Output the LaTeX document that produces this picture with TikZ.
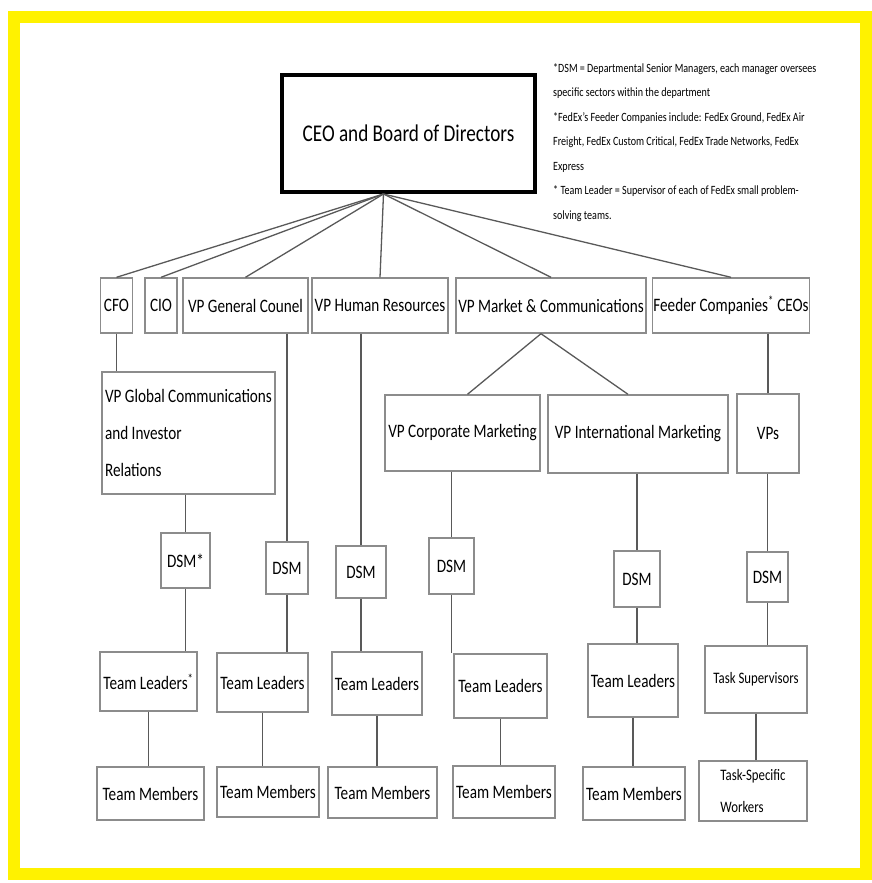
\documentclass[tikz,border=0pt]{standalone}
\usepackage{fontspec}
\setmainfont{Carlito}[FakeStretch=0.8]
\usetikzlibrary{calc}
\usetikzlibrary{positioning}

\tikzset{
  box/.style={draw=black!45, line width=1.4pt, inner sep=1pt, fill=white,
    font=\fontsize{19}{23}\selectfont},
  ceobox/.style={draw=black, line width=4pt, fill=white,
    font=\fontsize{24}{28}\selectfont},
  link/.style={draw=black!65, line width=1.3pt},
}

\begin{document}
\begin{tikzpicture}[x=1pt, y=-1pt]
  \useasboundingbox (0,0) rectangle (872,883);
  \draw [yellow, line width=12pt] (14,17) rectangle (866,874);

  % top of the chart
  \node [ceobox, minimum width=253pt, minimum height=117pt] (ceo) at (408.5,133.5)
    {CEO and Board of Directors};
  \coordinate (apex) at ([xshift=-25pt]ceo.south);
  \node [anchor=north west, align=left, inner sep=0pt,
    font=\fontsize{12.6}{24.5}\selectfont] (notes) at (553,63)
    {*DSM = Departmental Senior Managers, each manager oversees\\
     specific sectors within the department\\
     *FedEx's Feeder Companies include: FedEx Ground, FedEx Air\\
     Freight, FedEx Custom Critical, FedEx Trade Networks, FedEx\\
     Express\\
     * Team Leader = Supervisor of each of FedEx small problem-\\
     solving teams.};

  % first row
  \foreach \name/\x/\w/\txt in {
    cfo/116.5/32/CFO, cio/161/32/CIO, vpgc/245.5/125/VP General Counel,
    vphr/380/136/VP Human Resources, vpmkt/551/190/VP Market \& Communications,
    feeder/731/156/Feeder Companies\textsuperscript{*} CEOs
  }{
    \node [box, minimum width=\w pt, minimum height=55pt] (\name) at (\x,305.5) {\txt};
  }

  % second row
  \node [box, minimum width=173pt, minimum height=122pt, align=left,
    font=\fontsize{19}{37}\selectfont] (vpglobal) at (188.5,433)
    {VP Global Communications\\and Investor\\Relations};
  \node [box, minimum width=155pt, minimum height=76pt] (vpcorp) at (462.5,433) {VP Corporate Marketing};
  \node [box, minimum width=180pt, minimum height=78pt] (vpintl) at (638,434) {VP International Marketing};
  \node [box, minimum width=62pt, minimum height=79pt] (vps) at (768,433.5) {VPs};

  % DSMs
  \foreach \name/\x/\y/\w/\h/\txt in {
    dsm1/185.5/560.5/49/55/DSM*, dsm2/287/568/42/52/DSM, dsm3/361/572/50/52/DSM,
    dsm4/451.5/566/45/56/DSM, dsm5/637/579/46/56/DSM, dsm6/767.5/577/41/50/DSM
  }{
    \node [box, minimum width=\w pt, minimum height=\h pt] (\name) at (\x,\y) {\txt};
  }

  % team leaders
  \foreach \name/\x/\y/\w/\h/\txt in {
    tl1/148.5/681.5/97/59/Team Leaders\textsuperscript{*}, tl2/262.5/682.5/91/59/Team Leaders,
    tl3/377/683.5/90/63/Team Leaders, tl4/500.5/686/93/64/Team Leaders,
    tl5/633/680.5/90/73/Team Leaders
  }{
    \node [box, minimum width=\w pt, minimum height=\h pt] (\name) at (\x,\y) {\txt};
  }
  \node [box, minimum width=102pt, minimum height=67pt,
    font=\fontsize{16}{20}\selectfont] (tsup) at (756,679.5) {Task Supervisors};

  % team members
  \foreach \name/\x/\y/\w/\h in {
    tm1/150.5/793.5/107/53, tm2/268/792/102/50, tm3/382.5/792.5/109/51,
    tm4/504/792/102/52, tm5/634/793.5/102/53
  }{
    \node [box, minimum width=\w pt, minimum height=\h pt] (\name) at (\x,\y) {Team Members};
  }
  \node [box, minimum width=108pt, minimum height=60pt, align=left,
    font=\fontsize{16}{32}\selectfont] (tsw) at (753,791) {Task-Specific\\Workers};

  % links
  \foreach \n in {cfo, cio, vpgc, vphr, vpmkt, feeder}{
    \draw [link] (apex) -- (\n.north);
  }
  \draw [link] ([xshift=-10pt]vpmkt.south) -- ([xshift=5pt]vpcorp.north);
  \draw [link] ([xshift=-10pt]vpmkt.south) -- ([xshift=-10pt]vpintl.north);
  % straight down from the upper box
  \foreach \a/\b in {cfo/vpglobal, dsm1/tl1, dsm2/tl2, dsm3/tl3, dsm4/tl4, dsm5/tl5,
    dsm6/tsup, tl1/tm1, tl2/tm2, tl3/tm3, tl4/tm4, tl5/tm5, tsup/tsw}{
    \draw [link] (\a.south) -- (\a.south |- \b.north);
  }
  % straight up from the lower box
  \foreach \a/\b in {feeder/vps, vpglobal/dsm1, vpgc/dsm2, vphr/dsm3, vpcorp/dsm4,
    vpintl/dsm5, vps/dsm6}{
    \draw [link] (\b.north |- \a.south) -- (\b.north);
  }
\end{tikzpicture}
\end{document}
